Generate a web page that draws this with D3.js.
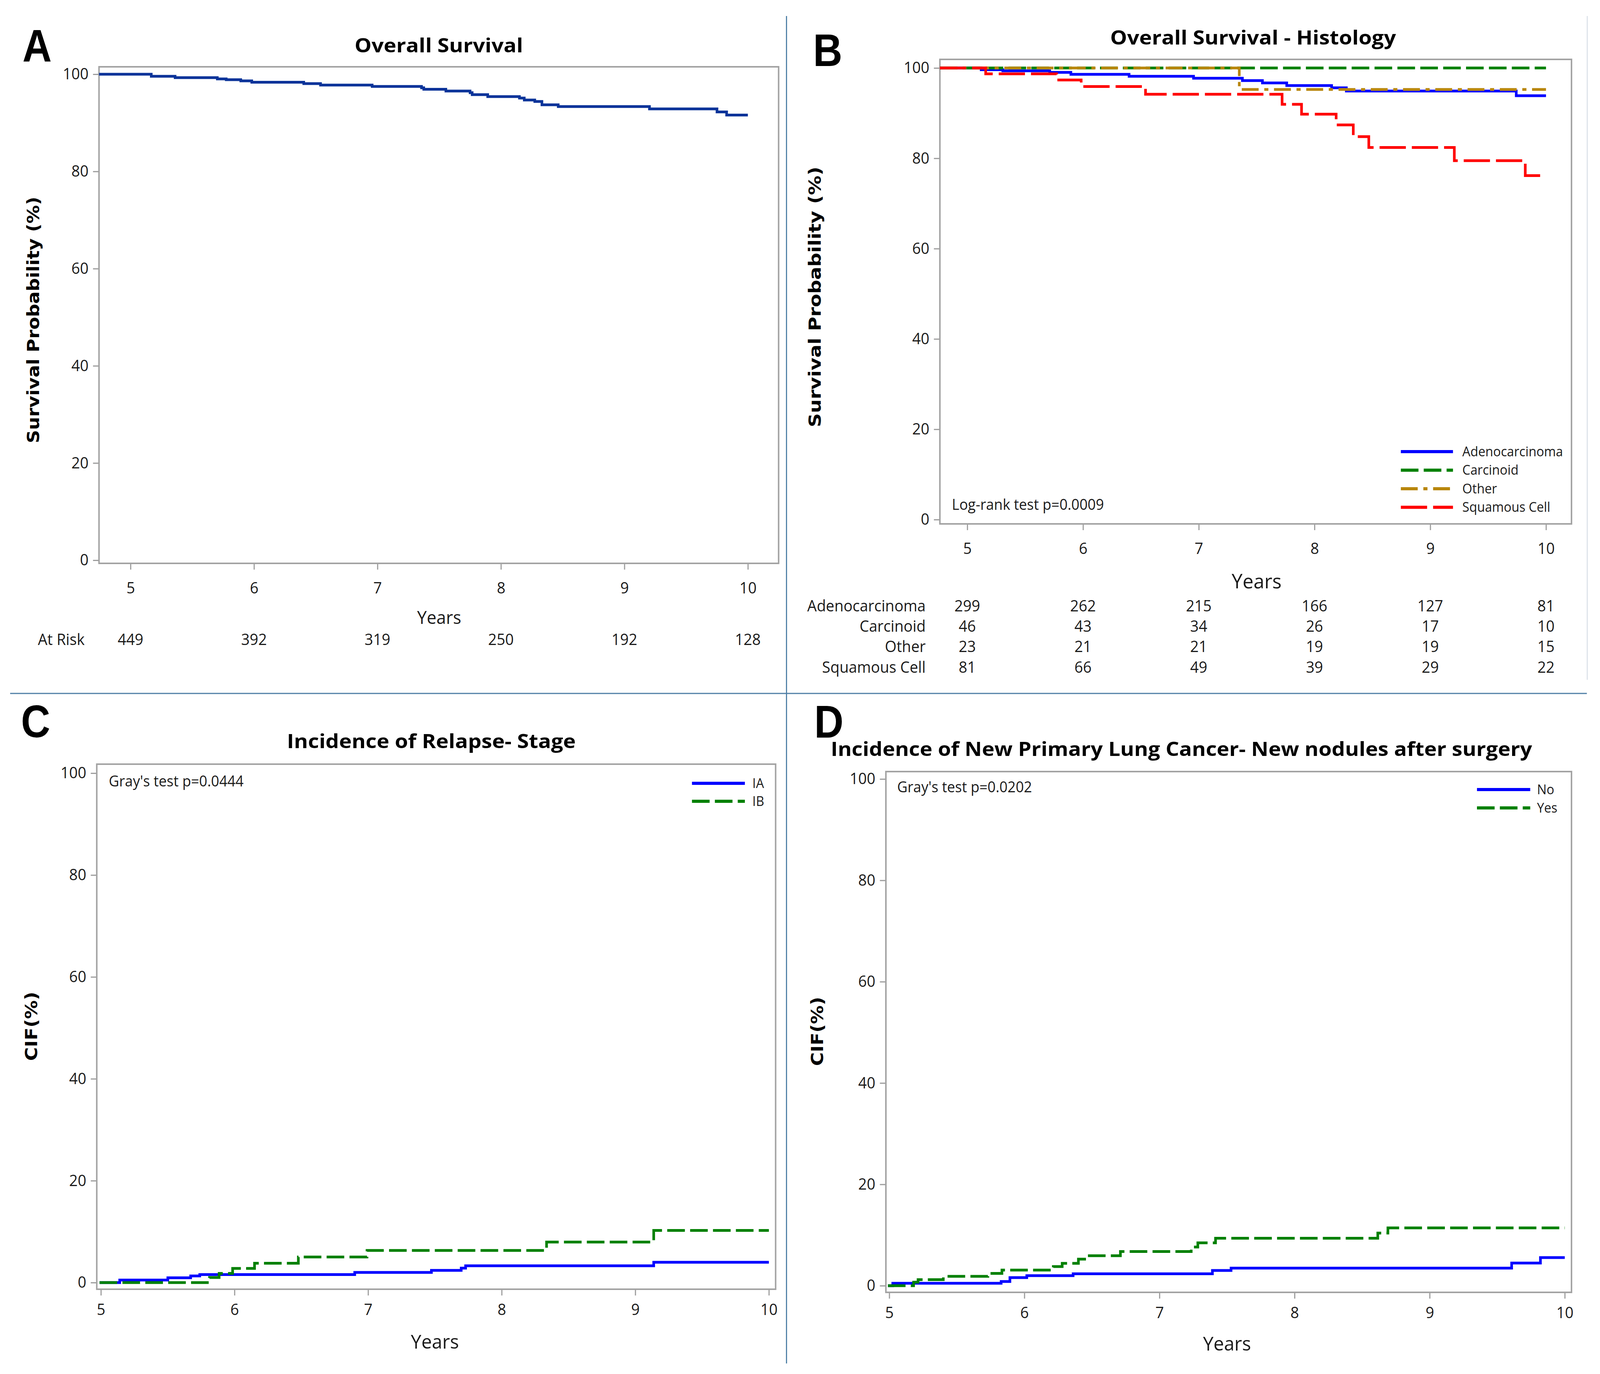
<!DOCTYPE html>
<html>
<head>
<meta charset="utf-8">
<script src="https://cdn.jsdelivr.net/npm/d3@7"></script>
<style>
  html, body { margin: 0; padding: 0; background: #fff; overflow: hidden; }
  #chart svg { display: block; width: 100vw; height: 100vh; }
</style>
</head>
<body>
<div id="chart"></div>
<script>
// ---- data ----
var yearTicks = [5, 6, 7, 8, 9, 10];
var pctTicks = [0, 20, 40, 60, 80, 100];

// A: overall survival
var osTimes = [4.745, 5.168, 5.361, 5.703, 5.775, 5.893, 5.982, 6.403, 6.539, 6.957, 7.357, 7.375, 7.554, 7.75, 7.767, 7.893, 8.15, 8.189, 8.274, 8.332, 8.464, 9.203, 9.75, 9.828, 10];
var osSurv = [100, 99.57, 99.3, 99.03, 98.87, 98.63, 98.36, 98.07, 97.77, 97.48, 97.2, 96.9, 96.54, 96.2, 95.8, 95.4, 95.1, 94.7, 94.4, 93.7, 93.35, 92.87, 92.25, 91.6, 91.6];
var osAtRisk = [449, 392, 319, 250, 192, 128];

// B: survival by histology
var histNames = ["Adenocarcinoma", "Carcinoid", "Other", "Squamous Cell"];
var adenoTimes = [4.763, 5.12, 5.307, 5.712, 5.895, 6.398, 6.955, 7.377, 7.55, 7.76, 8.148, 8.275, 9.743, 10];
var adenoSurv = [100, 99.6, 99.37, 99.02, 98.59, 98.16, 97.72, 97.2, 96.7, 96.1, 95.6, 94.9, 93.86, 93.86];
var carcTimes = [4.763, 10];
var carcSurv = [100, 100];
var otherTimes = [4.763, 7.35, 10];
var otherSurv = [100, 95.24, 95.24];
var squamTimes = [4.763, 5.159, 5.772, 5.984, 6.54, 7.72, 7.888, 8.187, 8.335, 8.469, 9.208, 9.821, 10];
var squamSurv = [100, 98.7, 97.35, 95.9, 94.18, 91.96, 89.77, 87.4, 84.8, 82.39, 79.48, 76.17, 76.17];
var histAtRisk = [
  [299, 262, 215, 166, 127, 81],
  [46, 43, 34, 26, 17, 10],
  [23, 21, 21, 19, 19, 15],
  [81, 66, 49, 39, 29, 22]
];

// C: relapse by stage (CIF %)
var stageNames = ["IA", "IB"];
var iaTimes = [4.99, 5.141, 5.501, 5.672, 5.74, 6.9, 7.474, 7.697, 7.73, 9.138, 10];
var iaCif = [0, 0.5, 0.94, 1.3, 1.58, 2.0, 2.4, 2.83, 3.29, 3.98, 3.98];
var ibTimes = [4.99, 5.813, 5.885, 5.986, 6.15, 6.478, 6.992, 8.336, 9.138, 10];
var ibCif = [0, 1.0, 1.8, 2.78, 3.8, 5.03, 6.3, 7.96, 10.23, 10.23];

// D: new primary lung cancer by new nodules (CIF %)
var noduleNames = ["No", "Yes"];
var noTimes = [4.99, 5.026, 5.828, 5.893, 6.018, 6.361, 7.392, 7.53, 9.607, 9.82, 10];
var noCif = [0, 0.49, 0.82, 1.6, 1.98, 2.36, 3.0, 3.47, 4.47, 5.55, 5.55];
var yesTimes = [4.99, 5.18, 5.213, 5.4, 5.73, 5.834, 6.214, 6.28, 6.4, 6.466, 6.711, 7.235, 7.284, 7.415, 8.616, 8.691, 10];
var yesCif = [0, 0.69, 1.2, 1.85, 2.42, 3.08, 3.78, 4.42, 5.24, 5.91, 6.74, 7.63, 8.46, 9.36, 10.39, 11.41, 11.41];

// ---- drawing ----
var FONT = "'Open Sans', 'Noto Sans', 'DejaVu Sans', sans-serif";
var W = 4266, H = 3517;

// svg fills the window, drawn in reference pixel units
var svg = d3.select("#chart").append("svg")
    .attr("viewBox", "0 0 " + W + " " + H)
    .attr("preserveAspectRatio", "none");

svg.append("rect").attr("width", W).attr("height", H).attr("fill", "#fff");

// panel separators
svg.append("line")
    .attr("x1", 2097).attr("x2", 2097).attr("y1", 41).attr("y2", 3490)
    .attr("stroke", "#4f7fa6").attr("stroke-width", 3);
svg.append("line")
    .attr("x1", 27).attr("x2", 4231).attr("y1", 1775).attr("y2", 1775)
    .attr("stroke", "#4f7fa6").attr("stroke-width", 3);
svg.append("line")
    .attr("x1", 4232).attr("x2", 4232).attr("y1", 41).attr("y2", 1740)
    .attr("stroke", "#dde3ea").attr("stroke-width", 3);

var dashes = {
  solid: null,
  dash: "47,14",
  dashdot: "45,15,11,15",
  longdash: "70,16"
};

function drawPanel(p) {
  var x = d3.scaleLinear().domain([5, 10]).range([p.x5, p.x10]);
  var y = d3.scaleLinear().domain([0, 100]).range([p.y0, p.y100]);
  var g = svg.append("g");

  // panel letter
  g.append("text")
      .attr("x", p.letterX).attr("y", p.letterY)
      .attr("textLength", 78).attr("lengthAdjust", "spacingAndGlyphs")
      .style("font-family", "'Liberation Sans', Arial, sans-serif")
      .style("font-weight", "bold")
      .style("font-size", "116px")
      .text(p.letter);

  // title
  g.append("text")
      .attr("x", p.titleX - p.titleW / 2).attr("y", p.titleY)
      .attr("textLength", p.titleW).attr("lengthAdjust", "spacingAndGlyphs")
      .style("font-family", FONT)
      .style("font-weight", "bold")
      .style("font-size", "50px")
      .text(p.title);

  // axes
  var yAxis = g.append("g")
      .attr("transform", "translate(" + p.frame[0] + ",0)")
      .call(d3.axisLeft(y).tickValues(pctTicks).tickFormat(d3.format("d"))
        .tickSize(16).tickPadding(12));
  var xAxis = g.append("g")
      .attr("transform", "translate(0," + p.frame[3] + ")")
      .call(d3.axisBottom(x).tickValues(yearTicks).tickFormat(d3.format("d"))
        .tickSize(16).tickPadding(p.xPad));
  [yAxis, xAxis].forEach(function (a) {
    a.select(".domain").remove();
    a.selectAll("line").attr("stroke", "#9c9c9c").attr("stroke-width", 3);
    a.selectAll("text")
        .attr("fill", "#1a1a1a")
        .style("font-family", FONT)
        .style("font-size", "40px");
  });

  // frame
  g.append("rect")
      .attr("x", p.frame[0]).attr("y", p.frame[1])
      .attr("width", p.frame[2] - p.frame[0])
      .attr("height", p.frame[3] - p.frame[1])
      .attr("fill", "none")
      .attr("stroke", "#a3a3a3")
      .attr("stroke-width", 4);

  // axis labels
  g.append("text")
      .attr("x", (p.x5 + p.x10) / 2).attr("y", p.yearsY)
      .attr("text-anchor", "middle")
      .style("font-family", FONT)
      .style("font-size", p.yearsSize + "px")
      .attr("fill", "#1a1a1a")
      .text("Years");
  g.append("text")
      .attr("transform", "translate(" + p.yLabX + "," + p.yLabY + ") rotate(-90)")
      .attr("x", -p.yLabW / 2)
      .attr("textLength", p.yLabW).attr("lengthAdjust", "spacingAndGlyphs")
      .style("font-family", "'DejaVu Sans', Verdana, sans-serif")
      .style("font-weight", "bold")
      .style("font-size", "44px")
      .text(p.yLab);

  // step curves
  var line = d3.line()
      .x(function (d) { return x(d[0]); })
      .y(function (d) { return y(d[1]); })
      .curve(d3.curveStepAfter);
  p.series.forEach(function (s) {
    g.append("path")
        .datum(d3.zip(s.times, s.values))
        .attr("d", line)
        .attr("fill", "none")
        .attr("stroke", s.color)
        .attr("stroke-width", 7)
        .attr("stroke-dasharray", dashes[s.dash]);
  });

  // legend
  if (p.legend) {
    var lg = g.selectAll(".leg")
        .data(p.series)
        .enter().append("g")
        .attr("transform", function (d, i) {
          return "translate(0," + (p.legend.y + i * p.legend.dy) + ")";
        });
    lg.append("line")
        .attr("x1", p.legend.x1).attr("x2", p.legend.x2)
        .attr("stroke", function (d) { return d.color; })
        .attr("stroke-width", 8)
        .attr("stroke-dasharray", function (d) { return dashes[d.dash]; });
    lg.append("text")
        .attr("x", p.legend.tx)
        .attr("dy", ".35em")
        .attr("fill", "#1a1a1a")
        .style("font-family", FONT)
        .style("font-size", "34px")
        .text(function (d) { return d.name; });
  }

  // test note
  if (p.note) {
    g.append("text")
        .attr("x", p.note.x).attr("y", p.note.y)
        .attr("fill", "#1a1a1a")
        .style("font-family", FONT)
        .style("font-size", "38px")
        .text(p.note.text);
  }

  return x;
}

// A
var xA = drawPanel({
  letter: "A", letterX: 60, letterY: 158,
  title: "Overall Survival", titleX: 1170, titleY: 134, titleW: 449,
  frame: [264, 171, 2076, 1442],
  x5: 348, x10: 1994, y0: 1434, y100: 190,
  xPad: 33, yearsY: 1597, yearsSize: 46,
  yLab: "Survival Probability (%)", yLabX: 104, yLabY: 819, yLabW: 631,
  series: [{ name: "All", times: osTimes, values: osSurv, color: "#0a3399", dash: "solid" }]
});

svg.append("text")
    .attr("x", 101).attr("y", 1651)
    .attr("fill", "#1a1a1a")
    .style("font-family", FONT).style("font-size", "40px")
    .text("At Risk");
svg.selectAll(".riskA")
    .data(osAtRisk)
    .enter().append("text")
    .attr("x", function (d, i) { return xA(yearTicks[i]); })
    .attr("y", 1651)
    .attr("text-anchor", "middle")
    .attr("fill", "#1a1a1a")
    .style("font-family", FONT).style("font-size", "40px")
    .text(function (d) { return d; });

// B
var xB = drawPanel({
  letter: "B", letterX: 2168, letterY: 169,
  title: "Overall Survival - Histology", titleX: 3341, titleY: 114, titleW: 762,
  frame: [2506, 152, 4190, 1341],
  x5: 2579, x10: 4122, y0: 1330, y100: 174,
  xPad: 33, yearsY: 1506, yearsSize: 52,
  yLab: "Survival Probability (%)", yLabX: 2188, yLabY: 760, yLabW: 667,
  series: [
    { name: histNames[0], times: adenoTimes, values: adenoSurv, color: "#0000ff", dash: "solid" },
    { name: histNames[1], times: carcTimes, values: carcSurv, color: "#008000", dash: "dash" },
    { name: histNames[2], times: otherTimes, values: otherSurv, color: "#b8860b", dash: "dashdot" },
    { name: histNames[3], times: squamTimes, values: squamSurv, color: "#ff0000", dash: "longdash" }
  ],
  legend: { x1: 3735, x2: 3874, tx: 3899, y: 1156, dy: 47.5 },
  note: { x: 2538, y: 1305, text: "Log-rank test p=0.0009" }
});

var riskBaseY = [1565, 1617, 1669, 1722];
histNames.forEach(function (name, r) {
  svg.append("text")
      .attr("x", 2468).attr("y", riskBaseY[r])
      .attr("text-anchor", "end")
      .attr("fill", "#1a1a1a")
      .style("font-family", FONT).style("font-size", "40px")
      .text(name);
  svg.selectAll(".riskB" + r)
      .data(histAtRisk[r])
      .enter().append("text")
      .attr("x", function (d, i) { return xB(yearTicks[i]); })
      .attr("y", riskBaseY[r])
      .attr("text-anchor", "middle")
      .attr("fill", "#1a1a1a")
      .style("font-family", FONT).style("font-size", "40px")
      .text(function (d) { return d; });
});

// C
drawPanel({
  letter: "C", letterX: 56, letterY: 1887,
  title: "Incidence of Relapse- Stage", titleX: 1150, titleY: 1915, titleW: 770,
  frame: [258, 1956, 2068, 3300],
  x5: 269, x10: 2050, y0: 3283, y100: 1979,
  xPad: 22, yearsY: 3452, yearsSize: 50,
  yLab: "CIF(%)", yLabX: 99, yLabY: 2627, yLabW: 177,
  series: [
    { name: stageNames[0], times: iaTimes, values: iaCif, color: "#0000ff", dash: "solid" },
    { name: stageNames[1], times: ibTimes, values: ibCif, color: "#008000", dash: "dash" }
  ],
  legend: { x1: 1845, x2: 1986, tx: 2006, y: 2005, dy: 46 },
  note: { x: 290, y: 2013, text: "Gray's test p=0.0444" }
});

// D
drawPanel({
  letter: "D", letterX: 2171, letterY: 1888,
  title: "Incidence of New Primary Lung Cancer- New nodules after surgery", titleX: 3150, titleY: 1935, titleW: 1870,
  frame: [2362, 1975, 4190, 3308],
  x5: 2371, x10: 4172, y0: 3291, y100: 1994,
  xPad: 22, yearsY: 3457, yearsSize: 50,
  yLab: "CIF(%)", yLabX: 2194, yLabY: 2640, yLabW: 177,
  series: [
    { name: noduleNames[0], times: noTimes, values: noCif, color: "#0000ff", dash: "solid" },
    { name: noduleNames[1], times: yesTimes, values: yesCif, color: "#008000", dash: "dash" }
  ],
  legend: { x1: 3938, x2: 4080, tx: 4098, y: 2021, dy: 47 },
  note: { x: 2392, y: 2028, text: "Gray's test p=0.0202" }
});
</script>
</body>
</html>
